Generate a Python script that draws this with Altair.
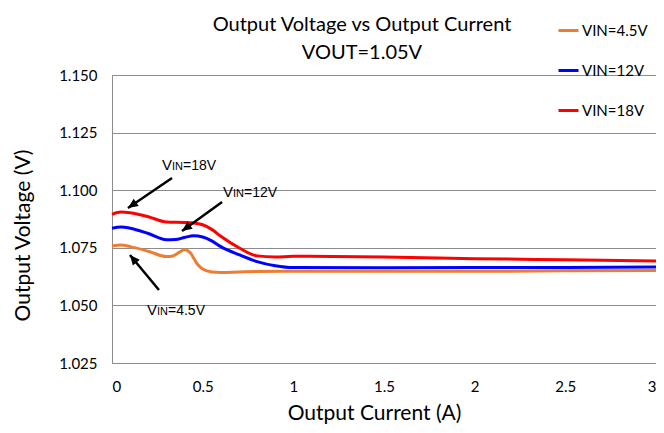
import math
import altair as alt
import pandas as pd

# ---------------- data ----------------
series_names = ["VIN=4.5V", "VIN=12V", "VIN=18V"]
series_colors = ["#ED7D31", "#0000FF", "#FF0000"]

x_45 = [0.0, 0.05, 0.1, 0.2, 0.3, 0.33, 0.37, 0.4, 0.43, 0.47, 0.5, 0.55, 0.6, 0.7, 0.8, 1.0, 1.5, 2.0, 2.5, 3.0]
y_45 = [1.0758, 1.0762, 1.0755, 1.0735, 1.0712, 1.0713, 1.0730, 1.0742, 1.0730, 1.0680, 1.0658, 1.0645, 1.0643, 1.0645, 1.0647, 1.0648, 1.0648, 1.0648, 1.0650, 1.0652]

x_12 = [0.0, 0.05, 0.1, 0.2, 0.3, 0.35, 0.4, 0.45, 0.5, 0.55, 0.6, 0.7, 0.8, 0.9, 1.0, 1.5, 2.0, 2.5, 3.0]
y_12 = [1.0835, 1.0840, 1.0835, 1.0812, 1.0785, 1.0786, 1.0795, 1.0802, 1.0797, 1.0780, 1.0755, 1.0720, 1.0690, 1.0672, 1.0664, 1.0663, 1.0664, 1.0665, 1.0667]

x_18 = [0.0, 0.05, 0.1, 0.2, 0.3, 0.4, 0.45, 0.5, 0.55, 0.6, 0.7, 0.8, 0.9, 1.0, 1.5, 2.0, 2.5, 3.0]
y_18 = [1.0895, 1.0905, 1.0902, 1.0885, 1.0862, 1.0860, 1.0858, 1.0850, 1.0830, 1.0800, 1.0750, 1.0715, 1.0710, 1.0713, 1.0710, 1.0703, 1.0698, 1.0693]

x_ticks = [0, 0.5, 1, 1.5, 2, 2.5, 3]
y_ticks = [1.025, 1.050, 1.075, 1.100, 1.125, 1.150]

title_line1 = "Output Voltage vs Output Current"
title_line2 = "VOUT=1.05V"

# annotations (data units)
ann_values = ["18V", "12V", "4.5V"]
ann_label_x = [0.276, 0.612, 0.193]
ann_label_y = [1.1088, 1.0970, 1.0458]
arrow_from_x = [0.331, 0.607, 0.259]
arrow_from_y = [1.1053, 1.0949, 1.0567]
arrow_tip_x = [0.088, 0.386, 0.099]
arrow_tip_y = [1.0923, 1.0823, 1.0719]

# ---------------- layout ----------------
W, H = 544, 288
X_DOM = [0, 3]
Y_DOM = [1.025, 1.150]
FONT = "Lato"
GRID = "#8C8C8C"

rows = []
for name, xs_, ys_ in zip(series_names, [x_45, x_12, x_18], [y_45, y_12, y_18]):
    for a, b in zip(xs_, ys_):
        rows.append({"series": name, "I": a, "V": b})
df = pd.DataFrame(rows)

px_per_x = W / (X_DOM[1] - X_DOM[0])
px_per_y = H / (Y_DOM[1] - Y_DOM[0])
arrow_rows, head_rows, text_rows = [], [], []
for i in range(len(ann_values)):
    arrow_rows.append({"id": i, "order": 0, "x": arrow_from_x[i], "y": arrow_from_y[i]})
    arrow_rows.append({"id": i, "order": 1, "x": arrow_tip_x[i], "y": arrow_tip_y[i]})
    dxp = (arrow_tip_x[i] - arrow_from_x[i]) * px_per_x
    dyp = -(arrow_tip_y[i] - arrow_from_y[i]) * px_per_y
    ang = math.degrees(math.atan2(dxp, -dyp)) % 360
    head_rows.append({"x": arrow_tip_x[i], "y": arrow_tip_y[i], "angle": ang})
    text_rows.append({"x": ann_label_x[i], "y": ann_label_y[i], "val": "=" + ann_values[i]})
arrows_df = pd.DataFrame(arrow_rows)
heads_df = pd.DataFrame(head_rows)
text_df = pd.DataFrame(text_rows)

xs = alt.Scale(domain=X_DOM, nice=False, zero=False)
ys = alt.Scale(domain=Y_DOM, nice=False, zero=False)

color = alt.Color(
    "series:N",
    scale=alt.Scale(domain=series_names, range=series_colors),
    sort=series_names,
    legend=alt.Legend(
        title=None,
        orient="none",
        legendX=445,
        legendY=-56,
        padding=0,
        symbolType="stroke",
        symbolSize=400,
        symbolStrokeWidth=3,
        labelFont=FONT,
        labelFontSize=15,
        labelColor="#000000",
        labelOffset=2,
        rowPadding=20,
    ),
)

lines = alt.Chart(df).mark_line(strokeWidth=3, interpolate="monotone").encode(
    x=alt.X(
        "I:Q",
        scale=xs,
        title="Output Current (A)",
        axis=alt.Axis(
            values=x_ticks,
            format=".1~f",
            grid=False,
            ticks=False,
            domain=True,
            domainColor=GRID,
            labelFont=FONT,
            labelFontSize=15,
            labelColor="#000000",
            labelPadding=16,
            titleFont=FONT,
            titleFontSize=21,
            titleFontWeight="normal",
            titleColor="#000000",
            titleX=262,
            titleY=50,
            titleAlign="center",
            titleBaseline="middle",
        ),
    ),
    y=alt.Y(
        "V:Q",
        scale=ys,
        title="Output Voltage (V)",
        axis=alt.Axis(
            values=y_ticks,
            format=".3f",
            grid=True,
            gridColor=GRID,
            gridWidth=1,
            ticks=False,
            domain=True,
            domainColor=GRID,
            labelFont=FONT,
            labelFontSize=15,
            labelColor="#000000",
            labelPadding=15,
            titleFont=FONT,
            titleFontSize=21,
            titleFontWeight="normal",
            titleColor="#000000",
            titleX=-89,
            titleY=160,
            titleAngle=270,
            titleAlign="center",
            titleBaseline="middle",
        ),
    ),
    color=color,
    detail="series:N",
)

arrow_lines = alt.Chart(arrows_df).mark_line(color="black", strokeWidth=2.5).encode(
    x=alt.X("x:Q", scale=xs),
    y=alt.Y("y:Q", scale=ys),
    detail="id:N",
    order="order:Q",
)

heads = alt.Chart(heads_df).mark_point(
    shape="M0,0 L-0.85,1.9 L0.85,1.9 Z",
    filled=True,
    color="black",
    opacity=1,
    size=110,
).encode(
    x=alt.X("x:Q", scale=xs),
    y=alt.Y("y:Q", scale=ys),
    angle=alt.Angle("angle:Q", scale=None),
)

txt_v = alt.Chart(text_df).mark_text(
    text="V", align="left", baseline="alphabetic", font="Liberation Sans", fontSize=15, color="black"
).encode(x=alt.X("x:Q", scale=xs), y=alt.Y("y:Q", scale=ys))

txt_in = alt.Chart(text_df).mark_text(
    text="IN", align="left", baseline="alphabetic", font="Liberation Sans", fontSize=11, dx=10, color="black"
).encode(x=alt.X("x:Q", scale=xs), y=alt.Y("y:Q", scale=ys))

txt_rest = alt.Chart(text_df).mark_text(
    align="left", baseline="alphabetic", font="Liberation Sans", fontSize=14, dx=21, color="black"
).encode(x=alt.X("x:Q", scale=xs), y=alt.Y("y:Q", scale=ys), text="val:N")

title1 = alt.Chart(text_df.head(1)).mark_text(
    text=title_line1, font=FONT, fontSize=20, align="center", baseline="middle", color="#000000"
).encode(x=alt.value(250), y=alt.value(-50))

title2 = alt.Chart(text_df.head(1)).mark_text(
    text=title_line2, font=FONT, fontSize=20, align="center", baseline="middle", color="#000000"
).encode(x=alt.value(250), y=alt.value(-22))

chart = (
    alt.layer(lines, arrow_lines, heads, txt_v, txt_in, txt_rest, title1, title2)
    .properties(
        width=W,
        height=H,
        autosize=alt.AutoSizeParams(type="none"),
        padding={"left": 104, "top": 67, "right": 0, "bottom": 61},
    )
    .configure_view(stroke=None)
    .configure(background="white")
)

chart.save("out.html", embed_options={"renderer": "svg", "actions": False})
